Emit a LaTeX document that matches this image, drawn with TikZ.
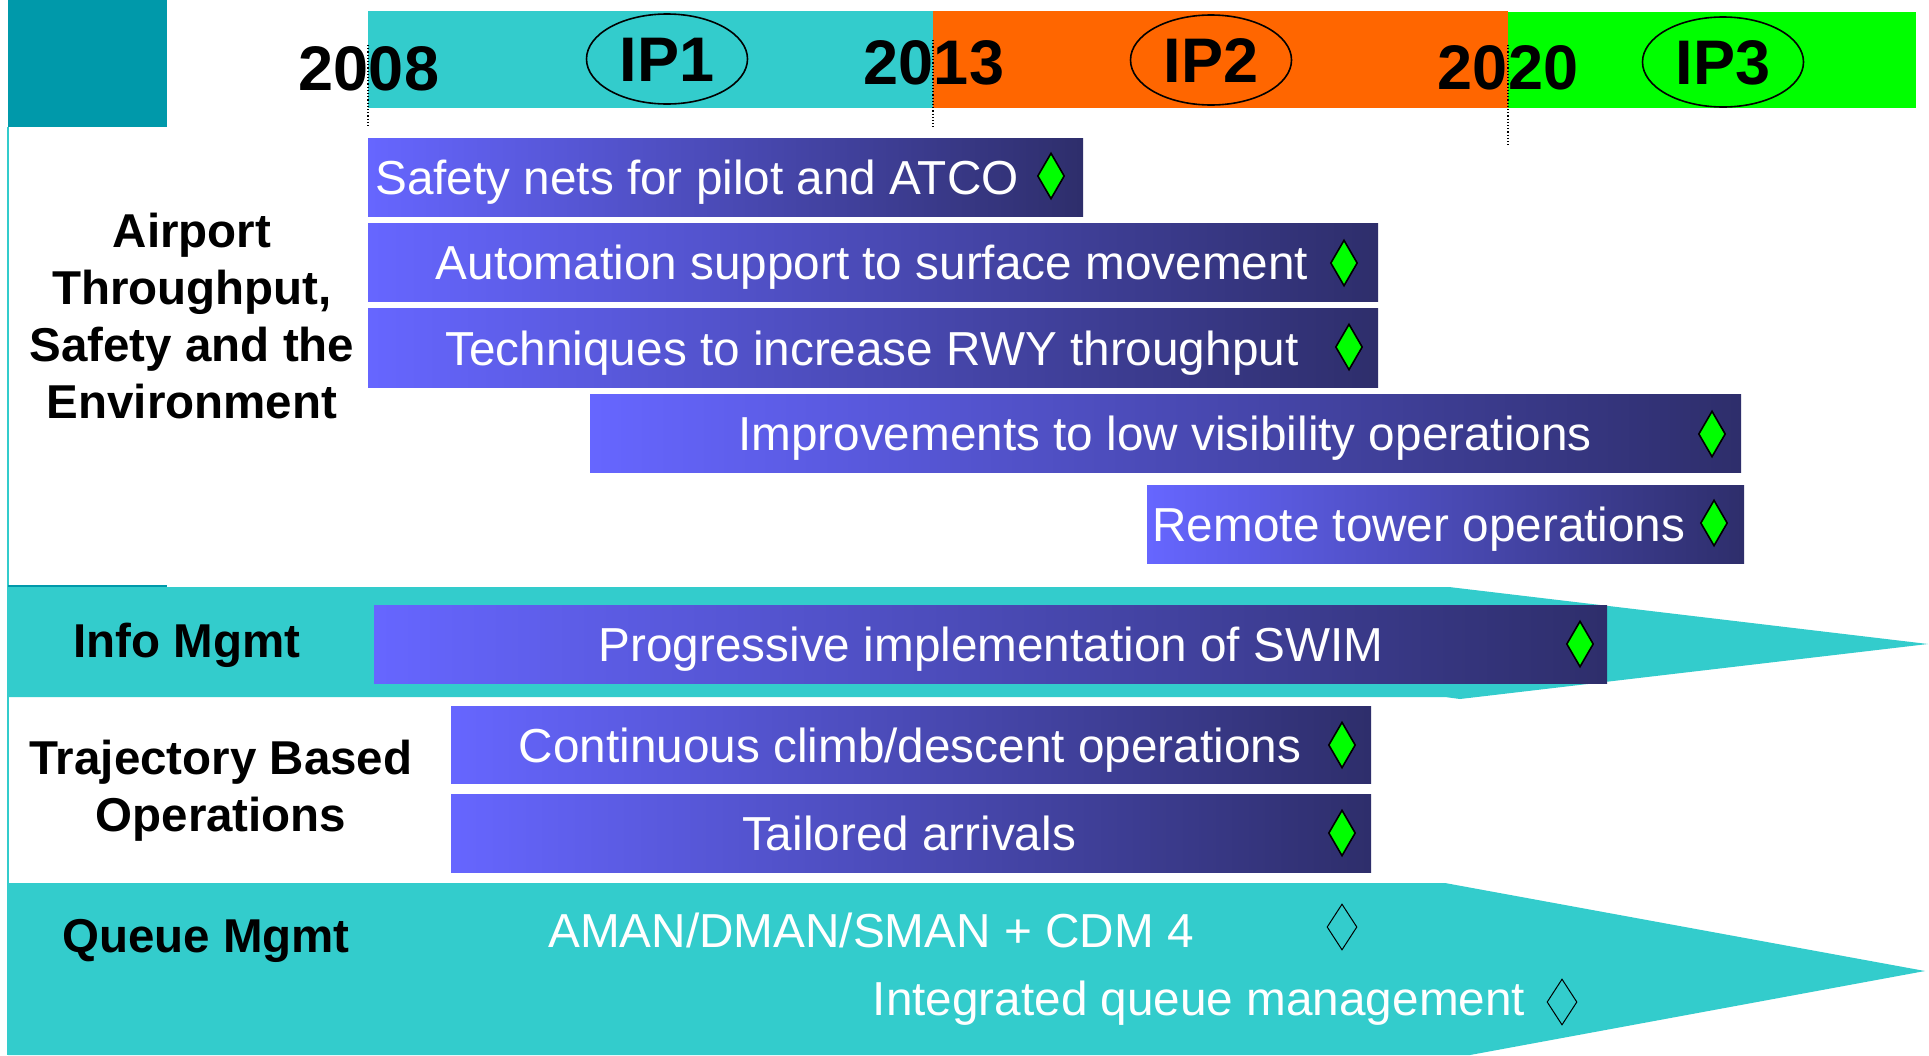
\documentclass[tikz,border=0pt]{standalone}
\usepackage{fontspec}
\setmainfont{Liberation Sans}
\usetikzlibrary{shapes.geometric}
\definecolor{tealA}{HTML}{33CCCC}
\definecolor{tealD}{HTML}{0099AA}
\definecolor{ipOrange}{HTML}{FF6600}
\definecolor{ipGreen}{HTML}{00FF00}
\definecolor{barL}{HTML}{6666FF}
\definecolor{barR}{HTML}{2E2E6B}
\begin{document}
\begin{tikzpicture}[x=1pt,y=-1pt,
  bar/.style={rectangle, inner sep=0pt, left color=barL, right color=barR, anchor=north west},
  bartext/.style={text=white, font=\fontsize{47.7}{57}\selectfont, inner sep=0pt, text height=34pt, text depth=0pt},
  year/.style={font=\bfseries\fontsize{63}{70}\selectfont, inner sep=0pt, text height=45pt, text depth=0pt},
  ipbox/.style={ellipse, draw=black, line width=1.6pt, minimum width=161pt, minimum height=90pt, inner sep=0pt,
    font=\bfseries\fontsize{63}{70}\selectfont, text height=45pt, text depth=0pt},
  grp/.style={font=\bfseries\fontsize{47.5}{57.3}\selectfont, align=center, inner sep=0pt},
  grp1/.style={grp, text height=34pt, text depth=0pt},
  ms/.style={diamond, draw=black, line width=1.6pt, fill=ipGreen, inner sep=0pt, minimum width=27pt, minimum height=46pt},
  msopen/.style={diamond, draw=black, line width=1pt, inner sep=0pt, minimum width=30pt, minimum height=46pt},
  yearline/.style={draw=black, line width=1.2pt, dash pattern=on 1.2pt off 2pt}
]
\useasboundingbox (0,0) rectangle (1929,1055);
\fill[white] (0,0) rectangle (1929,1055);

% top-left block and frame line
\fill[tealD] (8,0) rectangle (167,127);
\draw[tealA, line width=1.5pt] (8,127) -- (8,1055);

% timeline band
\fill[tealA] (368,11) rectangle (933,108);
\fill[ipOrange] (933,11) rectangle (1508,108);
\fill[ipGreen] (1508,12) rectangle (1916,108);

\node[ipbox] (ip1) at (667,59) {IP1};
\node[ipbox] (ip2) at (1211,60) {IP2};
\node[ipbox] (ip3) at (1723,62) {IP3};

\node[year] (y2008) at (369,68) {2008};
\node[year] (y2013) at (934,62) {2013};
\node[year] (y2020) at (1508,67) {2020};

\coordinate (l08a) at (368,45); \coordinate (l08b) at (368,127);
\coordinate (l13a) at (933,40); \coordinate (l13b) at (933,127);
\coordinate (l20a) at (1508,45); \coordinate (l20b) at (1508,147);
\draw[yearline] (l08a) -- (l08b);
\draw[yearline] (l13a) -- (l13b);
\draw[yearline] (l20a) -- (l20b);

% Airport group
\node[grp] (gAirport) at (192,316) {Airport\\Throughput,\\Safety and the\\Environment};

\node[bar, minimum width=715pt, minimum height=78pt] (b1) at (368,138) {};
\node[bartext] (t1) at (697,177) {Safety nets for pilot and ATCO};
\node[ms] (d1) at (1051,176) {};

\node[bar, minimum width=1010pt, minimum height=78pt] (b2) at (368,223) {};
\node[bartext] (t2) at (872,262) {Automation support to surface movement};
\node[ms] (d2) at (1344,263) {};

\node[bar, minimum width=1010pt, minimum height=79pt] (b3) at (368,308) {};
\node[bartext] (t3) at (872,348) {Techniques to increase RWY throughput};
\node[ms] (d3) at (1349,347) {};

\node[bar, minimum width=1151pt, minimum height=78pt] (b4) at (590,394) {};
\node[bartext] (t4) at (1165,433) {Improvements to low visibility operations};
\node[ms] (d4) at (1712,434) {};

\node[bar, minimum width=597pt, minimum height=78pt] (b5) at (1147,485) {};
\node[bartext] (t5) at (1419,524) {Remote tower operations};
\node[ms] (d5) at (1714,523) {};

% Info Mgmt
\fill[tealA] (8,587) -- (1449,587) -- (1928,644) -- (1460,699) -- (1445,697) -- (8,697) -- cycle;
\draw[tealD, line width=2pt] (8,586) -- (167,586);
\node[grp1] (gInfo) at (187,640) {Info Mgmt};
\node[bar, minimum width=1233pt, minimum height=78pt] (bS) at (374,605) {};
\node[bartext] (tS) at (991,644) {Progressive implementation of SWIM};
\node[ms] (dS) at (1580,644) {};

% Trajectory Based Operations
\node[grp] (gTraj) at (221,791) {Trajectory Based\\Operations};
\node[bar, minimum width=920pt, minimum height=77pt] (b6) at (451,706) {};
\node[bartext] (t6) at (910,745) {Continuous climb/descent operations};
\node[ms] (d6) at (1342,745) {};

\node[bar, minimum width=920pt, minimum height=78pt] (b7) at (451,794) {};
\node[bartext] (t7) at (909,833) {Tailored arrivals};
\node[ms] (d7) at (1342,833) {};

% Queue Mgmt
\fill[tealA] (8,883) -- (1445,883) -- (1925,971) -- (1470,1055) -- (8,1055) -- cycle;
\node[grp1] (gQueue) at (206,935) {Queue Mgmt};
\node[bartext] (q1) at (871,930) {AMAN/DMAN/SMAN + CDM 4};
\node[msopen] (o1) at (1342,927) {};
\node[bartext] (q2) at (1199,998) {Integrated queue management};
\node[msopen] (o2) at (1562,1002) {};
\end{tikzpicture}
\end{document}
